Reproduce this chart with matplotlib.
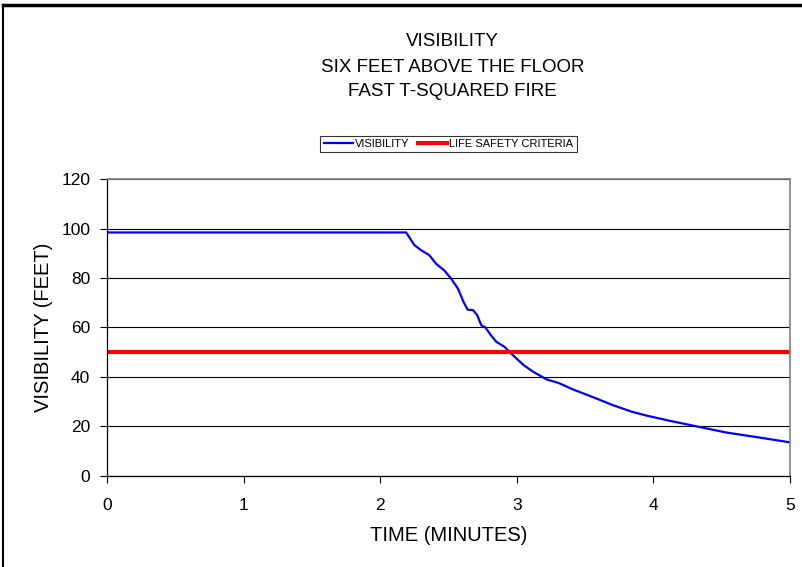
import matplotlib.pyplot as plt
from matplotlib.lines import Line2D

plt.rcParams['font.family'] = ['Liberation Sans', 'DejaVu Sans']

# visibility curve (time in minutes, visibility in feet)
time_min = [0.0, 2.19, 2.25, 2.30, 2.36, 2.41, 2.47, 2.52, 2.57, 2.61, 2.64,
            2.68, 2.71, 2.74, 2.77, 2.81, 2.85, 2.91, 2.95, 3.05, 3.12, 3.22,
            3.31, 3.41, 3.56, 3.70, 3.84, 3.95, 4.12, 4.33, 4.53, 4.78, 5.0]
visibility = [98.4, 98.4, 93.3, 91.2, 89.2, 85.7, 83.0, 79.7, 75.6, 70.3, 67.2,
              67.0, 65.0, 60.9, 60.0, 56.9, 54.2, 52.2, 49.9, 44.8, 42.1, 39.0,
              37.5, 35.0, 31.8, 28.7, 26.0, 24.4, 22.3, 19.9, 17.6, 15.5, 13.6]

criteria_time = [0, 5]
criteria = [50, 50]

x_ticks = [0, 1, 2, 3, 4, 5]
y_ticks = [0, 20, 40, 60, 80, 100, 120]

fig = plt.figure(figsize=(8.03, 5.67), dpi=100)
ax = fig.add_axes([0.1333, 0.1605, 0.8505, 0.5238])

ax.plot(time_min, visibility, color='#0000ff', lw=1.6, label='VISIBILITY')
ax.plot(criteria_time, criteria, color='#ff0000', lw=3, label='LIFE SAFETY CRITERIA')

ax.set_xlim(0, 5)
ax.set_ylim(0, 120)
ax.set_xticks(x_ticks)
ax.set_yticks(y_ticks)
ax.yaxis.grid(True, color='black', lw=0.8)
ax.set_axisbelow(True)
ax.tick_params(labelsize=12.5, length=5, width=0.8, direction='out')
ax.tick_params(axis='x', pad=11)
ax.tick_params(axis='y', pad=7)

for side in ['top', 'right']:
    ax.spines[side].set_color('#808080')
    ax.spines[side].set_linewidth(1.2)
for side in ['left', 'bottom']:
    ax.spines[side].set_color('black')
    ax.spines[side].set_linewidth(0.9)

ax.set_xlabel('TIME (MINUTES)', fontsize=14.5, labelpad=9)
ax.set_ylabel('VISIBILITY (FEET)', fontsize=14.5, labelpad=6)

# title lines
title_x = 0.5635
fig.text(title_x, 1 - 42 / 567, 'VISIBILITY', ha='center', va='center', fontsize=13.5)
fig.text(title_x, 1 - 67 / 567, 'SIX FEET ABOVE THE FLOOR', ha='center', va='center', fontsize=13.5)
fig.text(title_x, 1 - 91 / 567, 'FAST T-SQUARED FIRE', ha='center', va='center', fontsize=13.5)

leg = fig.legend(loc='center', bbox_to_anchor=(0.5585, 1 - 144 / 567), ncol=2,
                 fontsize=8, frameon=True, fancybox=False, edgecolor='black',
                 handlelength=2.6, handletextpad=0.2, columnspacing=0.8,
                 borderpad=0.3, borderaxespad=0)
leg.get_frame().set_linewidth(0.8)

# frame lines at top and left edge
fig.add_artist(Line2D([3 / 803, 1], [1 - 5 / 567, 1 - 5 / 567], color='black', lw=2.5,
                      transform=fig.transFigure))
fig.add_artist(Line2D([3 / 803, 3 / 803], [0, 1 - 5 / 567], color='black', lw=1.5,
                      transform=fig.transFigure))

plt.savefig('out.png', dpi=100)
plt.close()
